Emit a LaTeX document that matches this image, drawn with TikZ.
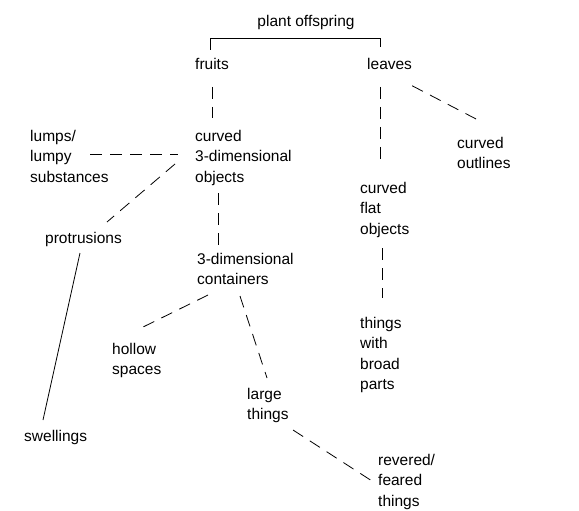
\documentclass[tikz,border=0pt]{standalone}
\usepackage{fontspec}
\setmainfont{Liberation Sans}
\usepackage{tikz}

\begin{document}
\begin{tikzpicture}[
  x=1pt, y=-1pt,
  item/.style={anchor=north west, align=left, inner sep=0pt, font=\fontsize{15.5}{20.5}\selectfont},
  link/.style={line width=0.8pt},
  dlink/.style={link, dash pattern=on 12pt off 8pt}
]
\useasboundingbox (0,0) rectangle (579,511);

\node[item, anchor=north] (top) at (306,15) {plant offspring};
\node[item] (fruits) at (195,58) {fruits};
\node[item] (leaves) at (367,58) {leaves};

\node[item] (obj) at (195,130) {curved\\3-dimensional\\objects};
\node[item] (lumps) at (30,130) {lumps/\\lumpy\\substances};
\node[item] (outl) at (457,137) {curved\\outlines};
\node[item] (protr) at (45,232) {protrusions};
\node[item] (swell) at (24,430) {swellings};

\node[item] (cont) at (197,253) {3-dimensional\\containers};
\node[item] (hollow) at (112,343) {hollow\\spaces};
\node[item] (large) at (247,388) {large\\things};
\node[item] (rever) at (378,454) {revered/\\feared\\things};

\node[item] (flat) at (360,182) {curved\\flat\\objects};
\node[item] (broad) at (360,317) {things\\with\\broad\\parts};

% bracket under the top label
\draw[link] ([xshift=-2pt,yshift=8pt]fruits.north) |- ([yshift=-9pt]top.south)
  -| ([xshift=13pt,yshift=11pt]leaves.north west);

% fruits branch
\draw[dlink, shorten <=17pt, shorten >=12pt] (fruits.south) -- (fruits.south |- obj.north);
\draw[dlink] ([xshift=60pt,yshift=-24pt]lumps.north west) -- ([xshift=-17pt,yshift=-24pt]obj.north west);
\draw[dlink] ([xshift=-20pt,yshift=-34pt]obj.north west) -- ([xshift=62pt,yshift=10pt]protr.north west);
\draw[link] ([xshift=35pt,yshift=-21pt]protr.north west) -- ([xshift=19pt,yshift=10pt]swell.north west);
\draw[dlink] ([xshift=23pt,yshift=-63pt]obj.north west) -- ([xshift=21pt,yshift=8pt]cont.north west);
\draw[dlink] ([xshift=11pt,yshift=-42pt]cont.north west) -- ([xshift=25pt,yshift=13pt]hollow.north west);
\draw[dlink] ([xshift=43pt,yshift=-43pt]cont.north west) -- ([xshift=20pt,yshift=10pt]large.north west);
\draw[dlink] ([xshift=46pt,yshift=-42pt]large.north west) -- ([xshift=-6pt,yshift=-27pt]rever.north west);

% leaves branch
\draw[dlink, shorten <=17pt, shorten >=17pt] ([xshift=13pt]leaves.south west) -- ([xshift=13pt]leaves.south west |- flat.north);
\draw[dlink] ([yshift=-16pt]leaves.south east) -- ([xshift=21pt,yshift=17pt]outl.north west);
\draw[dlink] ([xshift=22pt,yshift=-66pt]flat.north west) -- ([xshift=22pt,yshift=19pt]broad.north west);

\end{tikzpicture}
\end{document}
